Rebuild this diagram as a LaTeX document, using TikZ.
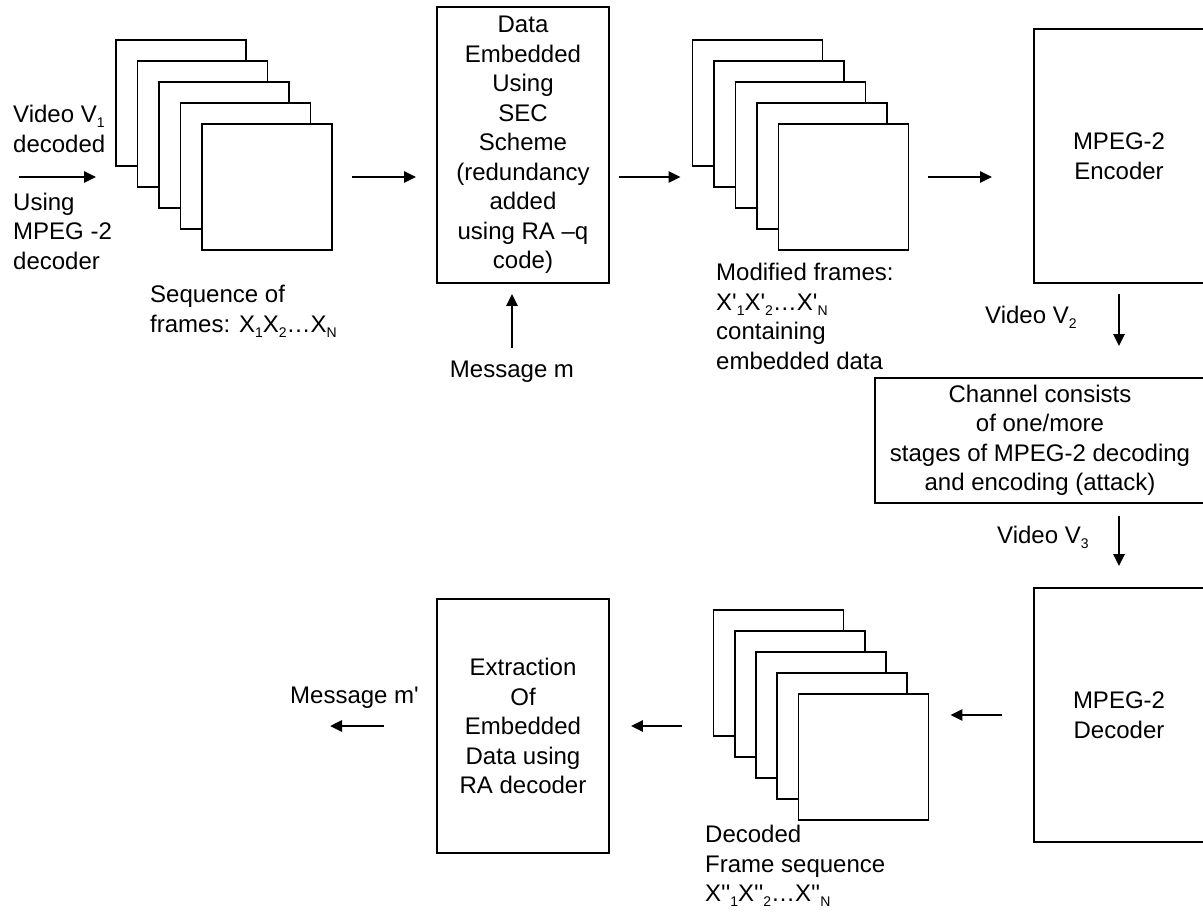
\documentclass[tikz,border=0pt]{standalone}
\usepackage{fontspec}
\setmainfont{Liberation Sans}[Ligatures=TeXOff]
\usetikzlibrary{arrows.meta,calc}
\newcommand\lowsub[1]{\raisebox{-5pt}{\fontsize{14}{14}\selectfont #1}}
\begin{document}
\begin{tikzpicture}[x=1pt,y=-1pt,
  txt/.style={inner sep=0pt, font=\fontsize{24}{29.5}\selectfont},
  blk/.style={draw, line width=1.8pt, fill=white, inner sep=0pt, align=center, font=\fontsize{24}{29.5}\selectfont},
  frm/.style={draw, line width=1.8pt, fill=white, minimum width=130pt, minimum height=126pt, inner sep=0pt},
  arr/.style={-{Triangle[length=12pt,width=11pt]}, line width=2.8pt}]
\fill[white] (0,0) rectangle (1203,911);
\useasboundingbox (0,0) rectangle (1203,911);

% frame stacks
\node[frm] (f1a) at (181,103) {};
\node[frm] (f1b) at (202.5,124) {};
\node[frm] (f1c) at (224,145) {};
\node[frm] (f1d) at (245.5,166) {};
\node[frm] (f1e) at (267,187) {};

\node[frm] (f2a) at (757.5,103) {};
\node[frm] (f2b) at (779,124) {};
\node[frm] (f2c) at (800.5,145) {};
\node[frm] (f2d) at (822,166) {};
\node[frm] (f2e) at (843.5,187) {};

\node[frm] (f3a) at (778.5,673) {};
\node[frm] (f3b) at (799.75,694) {};
\node[frm] (f3c) at (821,715) {};
\node[frm] (f3d) at (842.25,736) {};
\node[frm] (f3e) at (863.5,757) {};

% blocks
\node[blk, minimum width=172pt, minimum height=276pt] (sec) at (523,145)
  {Data\\Embedded\\Using\\SEC\\Scheme\\(redundancy\\added\\using RA –q\\code)};
\node[blk, minimum width=170pt, minimum height=254pt] (enc) at (1119,156) {MPEG-2\\Encoder};
\node[blk, minimum width=330pt, minimum height=125pt] (chan) at (1040,440.5)
  {Channel consists\\of one/more\\stages of MPEG-2 decoding\\and encoding (attack)};
\node[blk, minimum width=170pt, minimum height=254pt] (dec) at (1119,715) {MPEG-2\\Decoder};
\node[blk, minimum width=172pt, minimum height=254pt] (ext) at (523,726)
  {Extraction\\Of\\Embedded\\Data using\\RA decoder};

% labels
\node[txt, anchor=west, align=left] (lin1) at (13,129) {Video V\lowsub{1}\\decoded};
\node[txt, anchor=west, align=left] (lin2) at (13,231) {Using\\MPEG -2\\decoder};
\node[txt, anchor=north west, align=left] (seq) at (150,285) {Sequence of\\frames: X\lowsub{1}X\lowsub{2}…X\lowsub{N}};
\node[txt, anchor=base] (msg) at (512,377) {Message m};
\node[txt, anchor=north west, align=left] (mod) at (716,263)
  {Modified frames:\\X'\lowsub{1}X'\lowsub{2}…X'\lowsub{N}\\containing\\embedded data};
\node[txt, anchor=base west] (v2) at (985,323) {Video V\lowsub{2}};
\node[txt, anchor=base west] (v3) at (997,543) {Video V\lowsub{3}};
\node[txt, anchor=north west, align=left] (dseq) at (705,825)
  {Decoded\\Frame sequence\\X''\lowsub{1}X''\lowsub{2}…X''\lowsub{N}};
\node[txt, anchor=base west] (mout) at (290,703) {Message m'};

% connectors
\coordinate (in1) at (19,177);
\coordinate (out1) at (330,726);
\draw[arr, shorten >=19pt] (in1) -- (in1 -| f1a.west);
\draw[arr, shorten <=19pt, shorten >=20pt] ([yshift=10pt]f1e.east) -- ([yshift=10pt]f1e.east -| sec.west);
\draw[arr, shorten <=12pt, shorten >=10pt] (msg.north) -- (msg.north |- sec.south);
\draw[arr, shorten <=9pt, shorten >=11pt] ([yshift=-32pt]sec.east) -- ([yshift=-32pt]sec.east -| f2a.west);
\draw[arr, shorten <=19pt, shorten >=41pt] ([yshift=10pt]f2e.east) -- ([yshift=10pt]f2e.east -| enc.west);
\draw[arr, shorten <=10pt, shorten >=31pt] (enc.south) -- (enc.south |- chan.north);
\draw[arr, shorten <=12pt, shorten >=21pt] (dec.north |- chan.south) -- (dec.north);
\draw[arr, shorten <=31pt, shorten >=21pt] (dec.west) -- (dec.west -| f3e.east);
\draw[arr, shorten <=31pt, shorten >=21pt] (ext.east -| f3a.west) -- (ext.east);
\draw[arr, shorten <=52pt] (ext.west) -- (out1);
\end{tikzpicture}
\end{document}
